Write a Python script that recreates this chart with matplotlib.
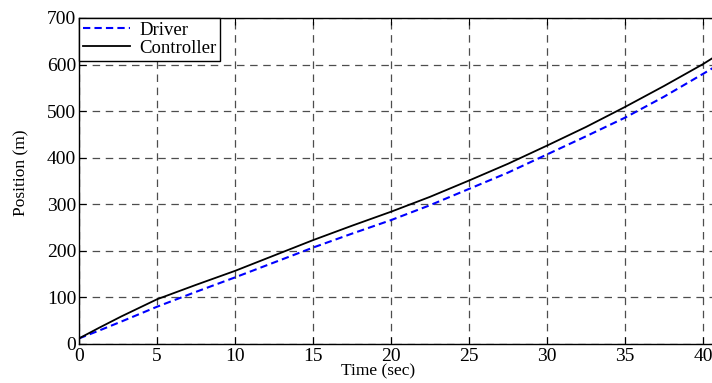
import numpy as np
import matplotlib
matplotlib.use("Agg")
import matplotlib.pyplot as plt

# values (time in s, position in m)
t = [0, 1.3, 2.7, 5, 7.5, 10, 12.5, 15, 17.5, 20, 22.5, 25, 27.5, 30, 32.5, 35, 37.5, 40, 41]
driver = [12, 29, 48, 80, 112, 143, 175, 207, 237, 266, 298, 333, 368, 407, 446, 486, 531, 580, 600]
controller = [12, 35, 59, 96, 127, 157, 190, 223, 254, 284, 316, 351, 387, 426, 466, 509, 554, 601, 622]

x_ticks = np.arange(0, 51, 5)
y_ticks = np.arange(0, 701, 100)

plt.rcParams["font.family"] = ["Liberation Serif", "DejaVu Serif"]

fig = plt.figure(figsize=(7.12, 3.83), dpi=100)
# axes extends past the right edge, as in the cropped reference
ax = fig.add_axes([79 / 712, 1 - 344 / 383, 780 / 712, 326 / 383])

ax.plot(t, driver, color="blue", lw=1.5, ls=(0, (3.5, 2)), label="Driver")
ax.plot(t, controller, color="black", lw=1.3, label="Controller")

ax.set_xlim(0, 50)
ax.set_ylim(0, 700)
ax.set_xticks(x_ticks)
ax.set_yticks(y_ticks)
ax.grid(True, color="0.3", lw=0.9, ls=(0, (6, 4.5)))
ax.tick_params(direction="in", length=5, width=0.8, top=True, right=True,
               labelsize=14, pad=3)
ax.tick_params(axis="y", pad=2)
for s in ax.spines.values():
    s.set_linewidth(1.0)

ax.set_xlabel("Time (sec)", fontsize=12.5)
ax.set_ylabel("Position (m)", fontsize=12.5)
ax.xaxis.set_label_coords((378 - 79) / 780, -0.06)
ax.yaxis.set_label_coords((29 - 79) / 780, 0.525)

leg = ax.legend(loc="upper left", bbox_to_anchor=(0, 1), borderaxespad=0,
                fancybox=False, framealpha=1, edgecolor="black", fontsize=13.5,
                handlelength=2.5, handletextpad=0.5, borderpad=0.2,
                labelspacing=0.05)
leg.get_frame().set_linewidth(1.0)

fig.savefig("out.png", dpi=100)
